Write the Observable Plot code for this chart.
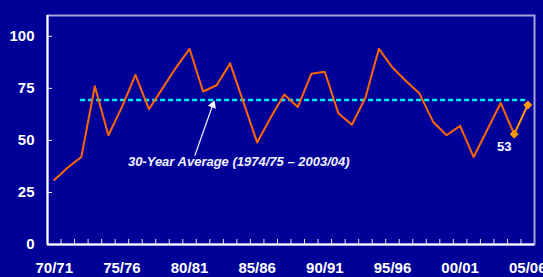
<!DOCTYPE html>
<html>
<head>
<meta charset="utf-8">
<script src="https://cdn.jsdelivr.net/npm/d3@7"></script>
<script src="https://cdn.jsdelivr.net/npm/@observablehq/plot@0.6"></script>
<style>
  html, body { margin: 0; padding: 0; background: #000099; overflow: hidden; }
  #chart svg { display: block; }
  g[aria-label="x-axis tick label"], g[aria-label="y-axis tick label"] { font-weight: bold; font-size: 15px; }
</style>
</head>
<body>
<div id="chart"></div>
<script>
const seasons = ["70/71","71/72","72/73","73/74","74/75","75/76","76/77","77/78","78/79","79/80",
  "80/81","81/82","82/83","83/84","84/85","85/86","86/87","87/88","88/89","89/90",
  "90/91","91/92","92/93","93/94","94/95","95/96","96/97","97/98","98/99","99/00",
  "00/01","01/02","02/03","03/04","04/05","05/06"];
const values = [31, 37, 42, 76, 52.5, 66, 81.5, 65, 75, 85,
  94, 73.5, 76.5, 87, 68, 49, 61, 72, 66, 82,
  83, 63, 57.5, 70.5, 94, 85, 78.5, 72.5, 59, 52.5,
  57, 42, 55, 68, 53, 67];
const average = 69.4;
const averageSpan = ["72/73", "05/06"];
const yTicks = [0, 25, 50, 75, 100];
const xTickLabels = ["70/71","75/76","80/81","85/86","90/91","95/96","00/01","05/06"];
const annotation = "30-Year Average (1974/75 \u2013 2003/04)";

const rows = seasons.map((s, i) => ({season: s, i, value: values[i]}));
const idx = s => seasons.indexOf(s);
const n = seasons.length;
const boundaries = d3.range(1, n).map(k => k - 0.5);
const arrowSpec = {x1: 10.39, y1: 42.7, x2: 11.79, y2: 68.4};

const chart = Plot.plot({
  width: 543, height: 277,
  marginLeft: 47, marginRight: 9, marginTop: 15, marginBottom: 33,
  style: {background: "#000099", color: "white", fontFamily: "'Liberation Sans', Arial, sans-serif", overflow: "visible"},
  x: {type: "linear", domain: [-0.5, n - 0.5]},
  y: {domain: [0, 110]},
  marks: [
    Plot.frame({stroke: "#a4a4d8", strokeWidth: 2}),
    Plot.ruleY([0], {stroke: "white", strokeWidth: 2}),
    Plot.ruleX([-0.5], {stroke: "white", strokeWidth: 2}),
    // x tick marks between categories
    Plot.ruleX(boundaries, {y1: 0, y2: 2.4, stroke: "#e8e8f4", strokeWidth: 1}),
    // y tick marks (inside)
    Plot.ruleY(yTicks.filter(d => d > 0), {x1: -0.5, x2: -0.13, stroke: "#e8e8f4", strokeWidth: 1}),
    Plot.axisX({ticks: xTickLabels.map(idx), tickFormat: i => seasons[i], tickSize: 0, tickPadding: 18, fontSize: 15, fontWeight: "bold", label: null}),
    Plot.axisY({ticks: yTicks, tickSize: 0, tickPadding: 13, fontSize: 15, fontWeight: "bold", label: null}),
    // 30-year average
    Plot.ruleY([average], {x1: idx(averageSpan[0]) - 0.05, x2: idx(averageSpan[1]) - 0.1, stroke: "#00f4f8", strokeWidth: 2.4, strokeDasharray: "5,3"}),
    // main series
    Plot.line(rows.slice(0, n - 1), {x: "i", y: "value", stroke: "#ff6600", strokeWidth: 2}),
    // latest segment
    Plot.line(rows.slice(n - 2), {x: "i", y: "value", stroke: "#ff9900", strokeWidth: 2}),
    Plot.dot(rows.slice(n - 2), {x: "i", y: "value", symbol: "diamond2", r: 3.6, fill: "#ff9900", stroke: "#ff9900", strokeWidth: 1}),
    Plot.text(rows.slice(n - 2, n - 1), {x: "i", y: "value", text: d => String(d.value), dx: -10, dy: 13, fill: "white", fontSize: 13, fontWeight: "bold"}),
    // annotation
    Plot.text([annotation], {x: 5, y: 39.5, dx: 6, text: d => d, textAnchor: "start", fill: "#f2f2ff", fontSize: 13, fontWeight: "bold", fontStyle: "italic"}),
    Plot.link([arrowSpec], {x1: "x1", y1: "y1", x2: "x2", y2: "y2", stroke: "#f2f2ff", strokeWidth: 1.3}),
    Plot.dot([arrowSpec], {x: "x2", y: "y2", dx: -1, dy: 2.8, symbol: "triangle", r: 3.2, rotate: 20, fill: "#f2f2ff", stroke: "none"})
  ]
});
document.getElementById("chart").appendChild(chart);
</script>
</body>
</html>
